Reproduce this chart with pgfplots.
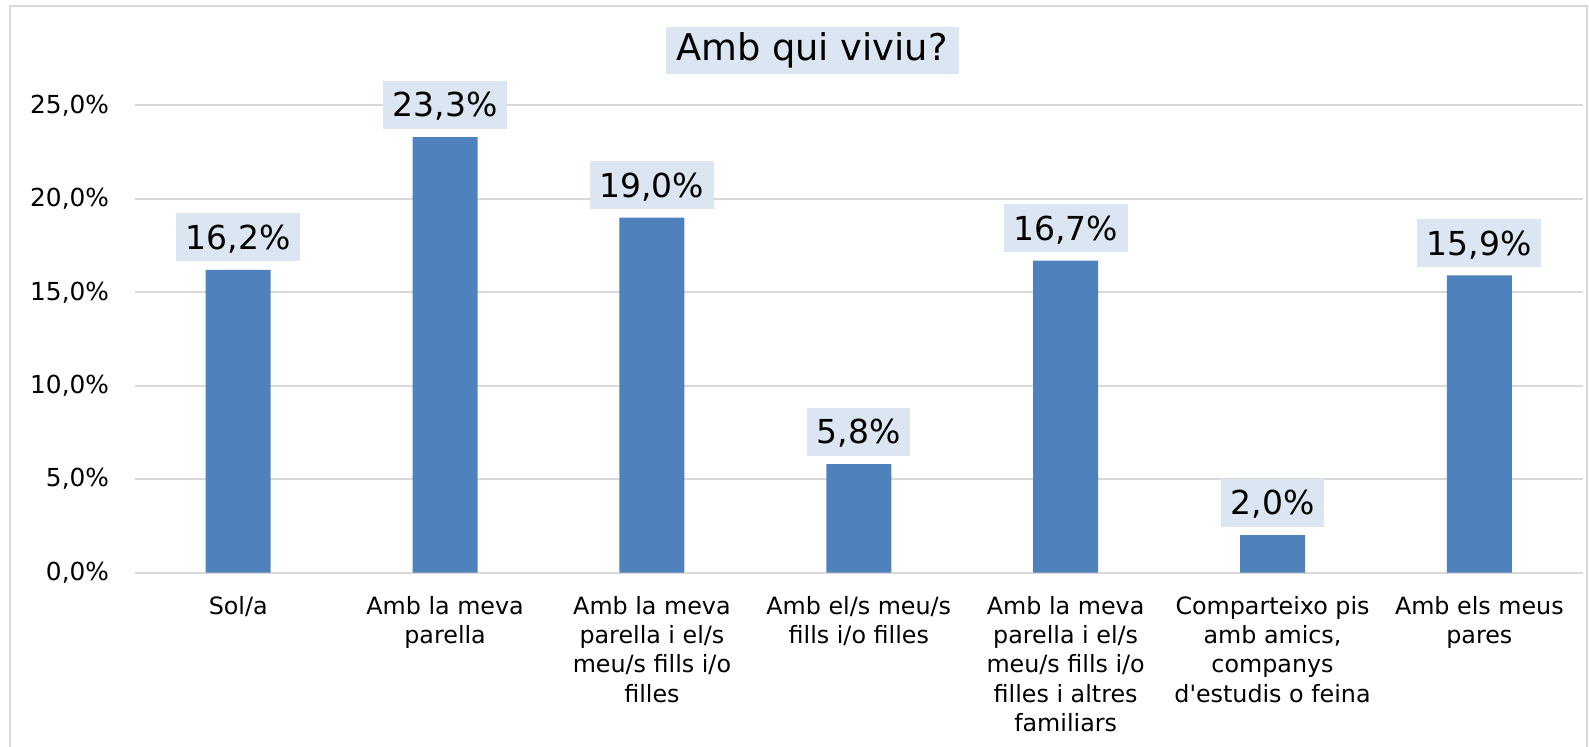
\documentclass[border=0pt]{standalone}
\usepackage{fontspec}
\setmainfont{DejaVu Sans}[Ligatures=TeXOff]
\usepackage{pgfplots}
\pgfplotsset{compat=1.18}
\definecolor{barblue}{RGB}{79,129,189}
\definecolor{lblfill}{RGB}{220,230,242}
\definecolor{gridgray}{RGB}{217,217,217}

\begin{document}
\begin{tikzpicture}
\path[use as bounding box] (0,0) rectangle (794.5pt,-373pt);
\draw[gridgray, line width=1pt] (5pt,-3pt) rectangle (793.5pt,-400pt);
% title
\node[fill=lblfill, minimum width=146.5pt, minimum height=23.5pt, inner sep=0pt,
  font=\fontsize{18.4}{22}\selectfont] at (406pt,-25.3pt) {Amb qui viviu?};
\begin{axis}[
    at={(67.4pt,-286.3pt)}, anchor=south west,
    scale only axis, width=724pt, height=233.6pt,
    ybar, bar width=32.5pt,
    xmin=-0.5, xmax=6.5, ymin=0, ymax=25,
    ytick={0,5,...,25},
    xtick=data,
    xticklabels={Sol/a, {Amb la meva\\parella}, {Amb la meva\\parella i el/s\\meu/s fills i/o\\filles},
      {Amb el/s meu/s\\fills i/o filles}, {Amb la meva\\parella i el/s\\meu/s fills i/o\\filles i altres\\familiars},
      {Comparteixo pis\\amb amics,\\companys\\d'estudis o feina}, {Amb els meus\\pares}},
    xticklabel style={font=\fontsize{11.9}{14.7}\selectfont, align=center, anchor=north, inner sep=0pt, yshift=-7.2pt},
    yticklabel style={font=\fontsize{12.4}{14}\selectfont, anchor=east, inner sep=0pt, xshift=-12.7pt},
    /pgf/number format/assume math mode=true,
    /pgf/number format/.cd, use comma, fixed, fixed zerofill, precision=1, /pgfplots/.cd,
    yticklabel={\pgfmathprintnumber{\tick}\%},
    ymajorgrids, grid style={gridgray, line width=1pt},
    axis line style={draw=none}, major tick style={draw=none},
    nodes near coords={\pgfmathprintnumber[fixed,fixed zerofill,precision=1,use comma]{\pgfplotspointmeta}\%},
    nodes near coords style={font=\fontsize{16.5}{20}\selectfont, fill=lblfill, inner xsep=4.75pt,
      inner ysep=6pt, text height=12pt, text depth=0pt, anchor=south, yshift=4pt},
]
\addplot[fill=barblue, draw=none] coordinates {
    (0,16.2) (1,23.3) (2,19.0) (3,5.8) (4,16.7) (5,2.0) (6,15.9)
};
\end{axis}
\end{tikzpicture}
\end{document}
